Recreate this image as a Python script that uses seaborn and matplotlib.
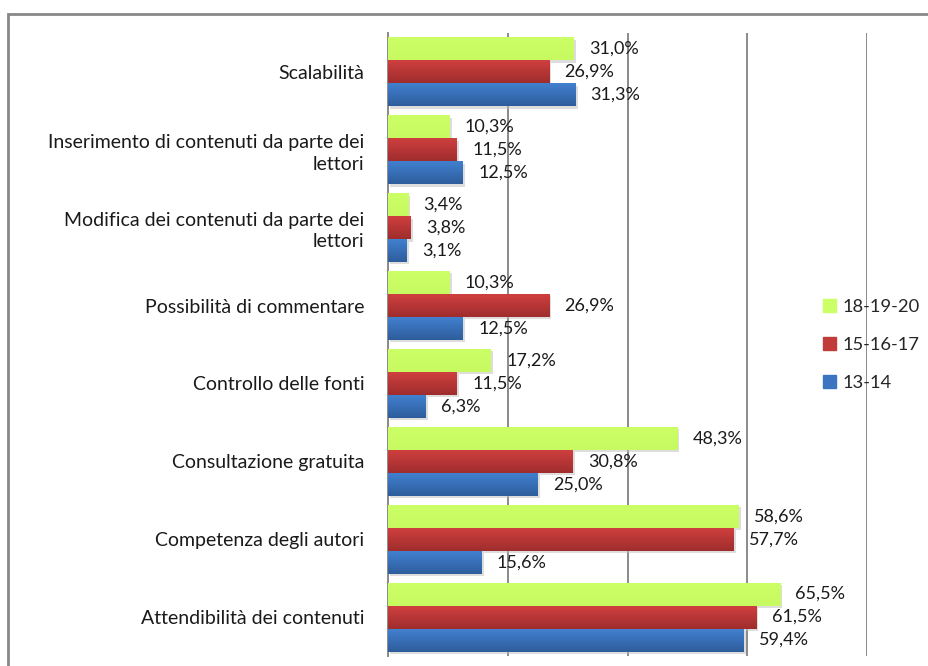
import matplotlib
matplotlib.use("Agg")
import matplotlib.pyplot as plt
import matplotlib.patches as mpatches
from matplotlib.colors import to_rgb
import seaborn as sns
import pandas as pd
import numpy as np

categories = [
    "Scalabilità",
    "Inserimento di contenuti da parte dei\nlettori",
    "Modifica dei contenuti da parte dei\nlettori",
    "Possibilità di commentare",
    "Controllo delle fonti",
    "Consultazione gratuita",
    "Competenza degli autori",
    "Attendibilità dei contenuti",
]
series = ["18-19-20", "15-16-17", "13-14"]
v_18_20 = [31.0, 10.3, 3.4, 10.3, 17.2, 48.3, 58.6, 65.5]
v_15_17 = [26.9, 11.5, 3.8, 26.9, 11.5, 30.8, 57.7, 61.5]
v_13_14 = [31.3, 12.5, 3.1, 12.5, 6.3, 25.0, 15.6, 59.4]
colors = ["#ccff66", "#c23b3b", "#3b74c0"]
# top / bottom shades for the gradient look
shades = [("#ccff66", "#c6fa60"), ("#cf3f3f", "#a02d2d"), ("#4180cf", "#2e5d9c")]

rows = []
for s, vals in zip(series, [v_18_20, v_15_17, v_13_14]):
    for c, v in zip(categories, vals):
        rows.append({"cat": c, "serie": s, "val": v})
df = pd.DataFrame(rows)

sns.set_style("white")
plt.rcParams["font.family"] = ["Lato", "DejaVu Sans"]

fig = plt.figure(figsize=(9.29, 6.66), dpi=100)
ax = fig.add_axes([388 / 929, 1 - 656 / 666, (867 - 388) / 929, (656 - 33) / 666])

sns.barplot(data=df, y="cat", x="val", hue="serie", hue_order=series,
            order=categories, palette=colors, width=0.885, orient="h",
            saturation=1, legend=False, ax=ax, zorder=3, linewidth=0)

for cont, (top, bot) in zip(ax.containers, shades):
    grad = np.linspace(to_rgb(top), to_rgb(bot), 32).reshape(32, 1, 3)
    for p in cont:
        x0, y0, w, h = p.get_x(), p.get_y(), p.get_width(), p.get_height()
        # soft shadow
        sh = mpatches.Rectangle((x0 + 0.35, y0 + 0.03), w, h, color="#bdbdbd",
                                alpha=0.5, zorder=2.5, lw=0)
        ax.add_patch(sh)
        im = ax.imshow(grad, extent=[x0, x0 + w, y0 + h, y0], origin="upper",
                       aspect="auto", zorder=3.1, interpolation="bilinear")
        im.set_clip_path(p)

for cont in ax.containers:
    labels = [f"{w:.1f}%".replace(".", ",") for w in cont.datavalues]
    ax.bar_label(cont, labels=labels, padding=11, fontsize=13, color="#1a1a1a")

ax.set_xlim(0, 80)
ax.set_ylim(7.5, -0.5)
ax.set_xticks([0, 20, 40, 60, 80])
ax.set_xticklabels([])
ax.grid(axis="x", color="#8a8a8a", lw=1.4, zorder=0)
ax.set_xlabel("")
ax.set_ylabel("")
for sp in ["top", "right", "bottom"]:
    ax.spines[sp].set_visible(False)
ax.spines["left"].set_color("#8a8a8a")
ax.spines["left"].set_linewidth(1.4)

ax.set_yticks(range(len(categories)))
ax.set_yticklabels(categories, fontsize=14, color="#1a1a1a", linespacing=1.3)
ax.tick_params(axis="y", length=0, pad=17)
ax.set_yticks(np.arange(-0.5, 8, 1), minor=True)
ax.tick_params(axis="y", which="minor", length=6, color="#8a8a8a", width=1.2, direction="out")
ax.tick_params(axis="x", length=5, color="#8a8a8a", width=1.2, direction="out")
for lab in ax.get_yticklabels():
    lab.set_horizontalalignment("right")

handles = [mpatches.Patch(color=c, label=s) for c, s in zip(colors, series)]
fig.legend(handles=handles, loc="center left", bbox_to_anchor=(0.868, 0.482),
           frameon=False, fontsize=13.2, labelspacing=1.2, handlelength=0.7,
           handleheight=0.7, handletextpad=0.35)

fig.patches.append(mpatches.Rectangle((8 / 929, -0.1), 1.1, 1.1 - 14 / 666,
                                      transform=fig.transFigure, fill=False,
                                      edgecolor="#888888", lw=2))

fig.savefig("out.png", dpi=100)
